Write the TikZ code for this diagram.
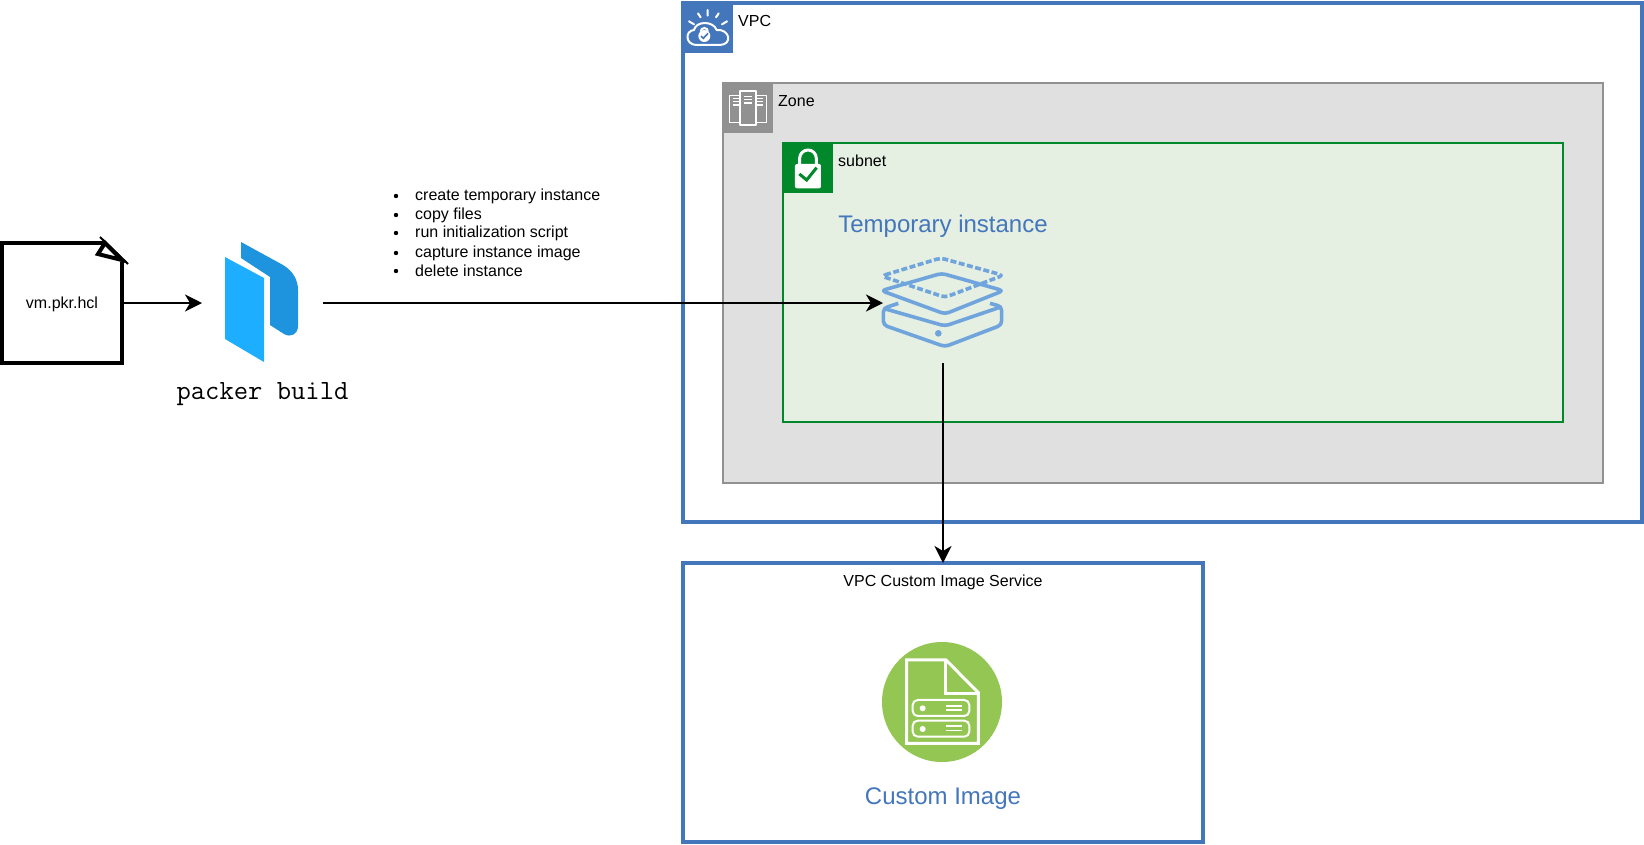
\documentclass[tikz,border=0pt]{standalone}
\usepackage{fontspec}
\setmainfont{Liberation Sans}
\usetikzlibrary{positioning, arrows.meta}
\definecolor{vpcblue}{HTML}{4376BB}
\definecolor{zonegrey}{HTML}{919191}
\definecolor{zonefill}{HTML}{E0E0E0}
\definecolor{subgreen}{HTML}{00882B}
\definecolor{subfill}{HTML}{E5EFE2}
\definecolor{vmblue}{HTML}{6FA5DC}
\definecolor{imggreen}{HTML}{94C653}
\definecolor{pklight}{HTML}{1DAEFF}
\definecolor{pkdark}{HTML}{1D94DD}
\tikzset{
  x=1pt,y=-1pt,
  >={Stealth[length=17pt,width=17pt,inset=5pt]},
  box/.style={anchor=north west,outer sep=0pt,inner sep=0pt},
  bluebox/.style={box,draw=vpcblue,line width=4pt,fill=white},
  iconbox/.style={box,minimum width=50pt,minimum height=50pt},
  hole/.style={outer sep=0pt,inner sep=0pt,minimum width=121pt,minimum height=120pt},
  lbl/.style={font=\fontsize{16}{19}\selectfont,inner sep=0pt},
  biglbl/.style={font=\fontsize{24}{28}\selectfont,text=vpcblue,inner sep=0pt},
  conn/.style={->,line width=2pt},
  icn/.style={draw=white,line width=2pt,line join=round},
  vmline/.style={draw=vmblue,line width=3.6pt,rounded corners=4pt,line join=round}
}

\begin{document}
\begin{tikzpicture}
\useasboundingbox (0,0) rectangle (1644,844);

% boxes
\node[bluebox,minimum width=959pt,minimum height=519pt] (vpc) at (683,3) {};
\node[box,draw=zonegrey,fill=zonefill,line width=2pt,minimum width=880pt,minimum height=400pt] (zone) at (723,83) {};
\node[box,draw=subgreen,fill=subfill,line width=2pt,minimum width=780pt,minimum height=279pt] (subnet) at (783,143) {};
\node[bluebox,minimum width=520pt,minimum height=279pt] (imgservice) at (683,563) {};

% corner icons
\node[iconbox,fill=vpcblue] (vpcicon) at (683,3) {};
\node[iconbox,fill=zonegrey,minimum width=51pt,minimum height=51pt] (zoneicon) at (722,82) {};
\node[iconbox,fill=subgreen] (subneticon) at (783,143) {};
\node[lbl,right=5pt of vpcicon.north east,yshift=-18pt,anchor=west] (vpclabel) {VPC};
\node[lbl,right=5pt of zoneicon.north east,yshift=-19pt,anchor=west] (zonelabel) {Zone};
\node[lbl,right=5pt of subneticon.north east,yshift=-18pt,anchor=west] (subnetlabel) {subnet};

% vpc icon
\begin{scope}[shift={(670,0)},x=.3333pt,y=-.3333pt]
\draw[icn] (78,135) .. controls (45,133) and (45,92) .. (72,90) .. controls (78,62) and (130,62) .. (140,90) .. controls (178,86) and (190,133) .. (150,135) -- cycle;
\draw[icn,line cap=round] (113,30) -- (113,47) (84,40) -- (92,52) (146,40) -- (138,52) (57,64) -- (72,73) (171,64) -- (156,73);
\fill[white] (103,108) circle (18);
\draw[white,line width=2pt] (92,95) arc (180:360:11);
\draw[vpcblue,line width=1.6pt] (93,108) -- (100,115) -- (114,100);
\end{scope}

% zone icon
\begin{scope}[shift={(670,0)},x=.3333pt,y=-.3333pt]
\draw[icn,line width=1.5pt] (178,287) rectangle (210,367) (258,287) rectangle (290,367);
\draw[icn,fill=zonegrey,line width=1.8pt] (210,272) rectangle (258,375);
\draw[icn,line width=1.5pt] (188,295) -- (208,295) (188,305) -- (208,305) (188,315) -- (208,315)
  (260,295) -- (280,295) (260,305) -- (280,305) (260,315) -- (280,315)
  (222,290) -- (246,290) (222,299) -- (246,299) (222,309) -- (246,309);
\end{scope}

% subnet icon
\begin{scope}[shift={(670,0)},x=.3333pt,y=-.3333pt]
\fill[white,rounded corners=2pt] (375,492) rectangle (453,565);
\draw[white,line width=3pt] (389,492) -- (389,475) arc (180:360:25) -- (439,492);
\draw[subgreen,line width=3pt] (388,522) -- (410,540) -- (440,503);
\end{scope}

% file
\node[box,minimum width=120pt,minimum height=120pt] (vmfile) at (2,243) {};
\draw[line width=4pt,line join=miter] (103,243) -- (vmfile.north west) -- (vmfile.south west) -- (vmfile.south east) -- (122,262);
\draw[line width=4pt,line join=miter,fill=white] (105,243) -- (98,254) -- (122,260) -- cycle;
\draw[line width=2pt] (100,237) -- (128,264);
\node[lbl,yshift=-1pt] (vmname) at (vmfile.center) {vm.pkr.hcl};

% packer
\node[hole] (packer) at (262.5,303) {};
\fill[pkdark] (241,242) -- (283,265) .. controls (293,271) and (298,280) .. (298,290) -- (298,326) .. controls (298,334) and (291,338) .. (284,334) -- (270,325) -- (270,277) -- (241,258) -- cycle;
\fill[pklight] (225,257) -- (264,278) -- (264,362) -- (225,339) -- cycle;
\node[font=\ttfamily\fontsize{27.8}{30}\selectfont,below=15pt of packer,inner sep=0pt,yshift=-4pt] (packerlabel) {packer build};

% steps
\node[lbl] (step1) at (415,196) [anchor=west] {create temporary instance};
\node[lbl] (step2) at (415,215) [anchor=west] {copy files};
\node[lbl] (step3) at (415,233) [anchor=west] {run initialization script};
\node[lbl] (step4) at (415,253) [anchor=west] {capture instance image};
\node[lbl] (step5) at (415,271) [anchor=west] {delete instance};
\foreach \s in {1,2,3,4,5}
  \fill (396,0 |- step\s.west) circle (2.2);

% instance
\node[biglbl] (templabel) at (943,226) {Temporary instance};
\node[hole,minimum width=120pt] (instance) at (943,303) {};
\begin{scope}[shift={(820,200)},x=.3333pt,y=-.3333pt]
\draw[vmline,dash pattern=on 6pt off 2.5pt] (184,228) -- (362,174) -- (550,226) -- (375,292) -- cycle;
\draw[vmline] (235,310) -- (190,325) -- (190,375) -- (375,440) -- (545,375) -- (545,320) -- (510,310);
\draw[vmline] (190,325) -- (375,378) -- (545,320);
\draw[vmline] (184,272) -- (365,220) -- (550,272) -- (375,342) -- cycle;
\fill[vmblue] (355,400) circle (10);
\end{scope}

% custom image
\node[lbl,below=19pt of imgservice.north,anchor=center] (imglabel) {VPC Custom Image Service};
\node[circle,fill=imggreen,minimum size=120pt,inner sep=0pt] (imgcircle) at (942,702) {};
\begin{scope}[shift={(840,550)},x=.3333pt,y=-.3333pt]
\draw[icn,line width=3pt,line join=miter] (200,330) -- (318,330) -- (415,428) -- (415,580) -- (200,580) -- cycle;
\draw[icn,line width=3pt,line join=miter] (318,330) -- (318,430) -- (415,430);
\draw[icn,rounded corners=5pt] (218,450) rectangle (388,498) (218,512) rectangle (388,560);
\fill[white] (248,475) circle (9) (248,537) circle (9);
\draw[icn,line width=1.2pt] (318,468) -- (365,468) (318,480) -- (365,480) (318,528) -- (365,528) (318,542) -- (365,542);
\end{scope}
\node[biglbl,below=25pt of imgcircle,xshift=1pt] (customlabel) {Custom Image};

% connectors
\draw[conn] (vmfile) -- (packer);
\draw[conn] (packer) -- (instance);
\draw[conn] (instance) -- (imgservice);
\end{tikzpicture}
\end{document}
